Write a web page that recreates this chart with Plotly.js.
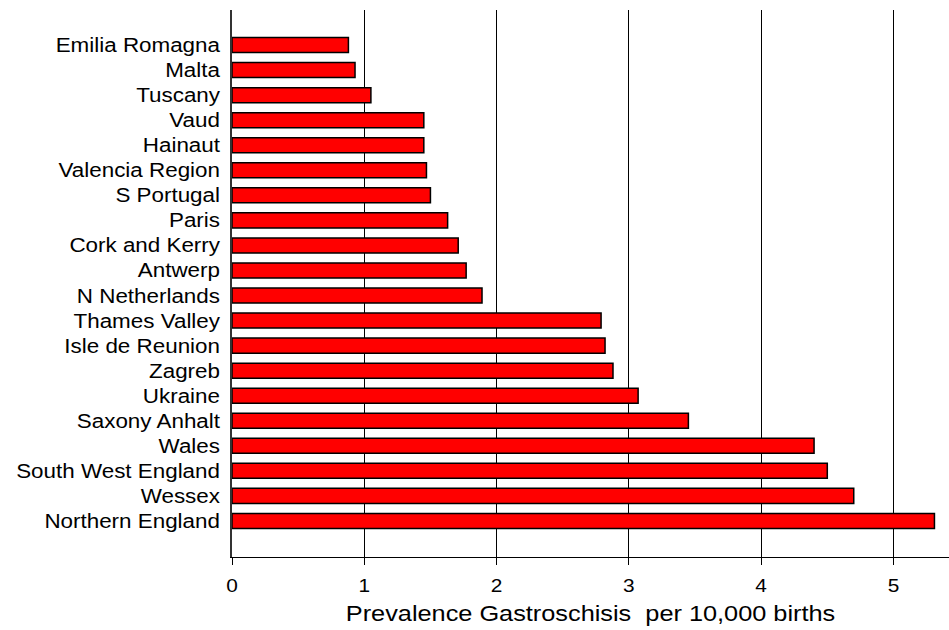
<!DOCTYPE html>
<html>
<head>
<meta charset="utf-8">
<script src="https://cdn.plot.ly/plotly-3.0.1.min.js"></script>
<style>html,body{margin:0;padding:0;background:#fff;}#chart{width:949px;height:630px;}</style>
</head>
<body>
<div id="chart"></div>
<script>
const regions = ["Emilia Romagna","Malta","Tuscany","Vaud","Hainaut","Valencia Region","S Portugal","Paris","Cork and Kerry","Antwerp","N Netherlands","Thames Valley","Isle de Reunion","Zagreb","Ukraine","Saxony Anhalt","Wales","South West England","Wessex","Northern England"];
const prevalence = [0.88,0.93,1.05,1.45,1.45,1.47,1.50,1.63,1.71,1.77,1.89,2.79,2.82,2.88,3.07,3.45,4.40,4.50,4.70,5.31];
const xTicks = [0,1,2,3,4,5];
const xTitle = "Prevalence Gastroschisis&nbsp;&nbsp;per 10,000 births";

const font = "Liberation Sans, Arial, sans-serif";
Plotly.newPlot("chart", [{
  type: "bar",
  orientation: "h",
  y: regions,
  x: prevalence,
  width: 0.6,
  marker: {color: "#ff0000", line: {color: "#000000", width: 1.5}},
  hoverinfo: "x+y"
}], {
  width: 949, height: 630,
  margin: {l: 232, r: 0, t: 10, b: 73},
  paper_bgcolor: "#fff", plot_bgcolor: "#fff",
  showlegend: false,
  font: {family: font, size: 20, color: "#000"},
  xaxis: {
    range: [0, 5.42],
    tickvals: xTicks,
    ticktext: xTicks.map(String),
    showgrid: true, gridcolor: "#000", gridwidth: 1,
    zeroline: false,
    showline: true, linecolor: "#000", linewidth: 1,
    ticks: "outside", ticklen: 7, tickcolor: "#000", tickwidth: 1,
    ticklabelstandoff: 4,
    tickfont: {family: font, size: 19, color: "#000"},
    title: {text: xTitle, font: {family: font, size: 22, color: "#000"}, standoff: 10},
    fixedrange: true
  },
  yaxis: {
    type: "category",
    range: [20.44, -1.4],
    showgrid: false, zeroline: false,
    showline: true, linecolor: "#333", linewidth: 2,
    ticks: "", ticklabelstandoff: 6,
    tickfont: {family: font, size: 20, color: "#000"},
    fixedrange: true
  },
  bargap: 0.4
}, {displayModeBar: false, staticPlot: true}).then(function () {
  // the reference text is drawn slightly wider than plain Arial
  function stretch(sel, k) {
    document.querySelectorAll(sel).forEach(function (t) {
      const len = t.getComputedTextLength();
      t.setAttribute("textLength", (len * k).toFixed(1));
      t.setAttribute("lengthAdjust", "spacingAndGlyphs");
    });
  }
  stretch("#chart .ytick text", 1.12);
  stretch("#chart .g-xtitle text", 1.15);
  stretch("#chart .xtick text", 1.1);
});
</script>
</body>
</html>
